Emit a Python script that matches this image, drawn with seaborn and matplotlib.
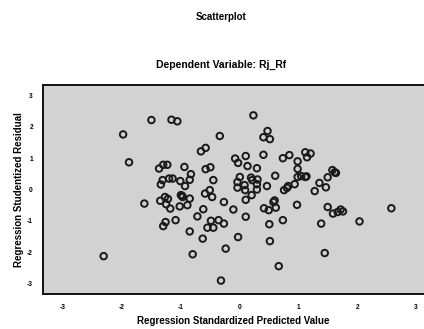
import matplotlib
matplotlib.use("Agg")
import matplotlib.pyplot as plt
import seaborn as sns
import pandas as pd

# Regression standardized predicted values (x) and studentized residuals (y)
pred = [-2.30, -1.97, -1.87, -1.49, -1.15, -1.05, -1.61,
        -1.36, -1.29, -1.22, -0.93, -0.82, -0.84, -0.92, -1.00, -1.30, -1.33,
        -1.19, -1.13, -0.65, -0.57, -0.57, -0.49, -0.58, -0.50, -0.46, -0.99,
        -0.97, -0.96, -0.84, -1.34, -1.26, -1.21, -1.24, -1.01, -0.88, -0.61,
        -1.17, -1.08, -0.71, -0.48, -0.54, -1.25, -1.29, -0.84, -0.62, -0.79,
        -0.44,
        0.24, -0.33, 0.48, 0.41, 0.52, -0.07, -0.02, 0.11, 0.41, 0.74, 0.85,
        1.12, 1.21, 1.15, 0.99, 0.14, 0.30, 0.99, 1.58, 1.62, 1.64, 0.01, 0.20,
        0.61, 0.99, 1.05, 1.12, 1.14, 1.50, 1.36, 1.47, 1.28, -0.03, 0.22, 0.31,
        0.30, 0.09, -0.03, 0.10, 0.30, 0.47, 0.76, 0.83, 0.94, 0.21, 0.11,
        -0.26, 0.60, 0.98, 1.50, 2.58, -0.10, 0.42, 0.62, 1.72, 0.50, 0.58,
        1.59, 1.67, 1.76, -0.35, -0.26, -0.44, 0.11, 0.51, 0.74, 1.39, 2.04,
        -0.02, 0.52, -0.23, 1.45, 0.67, -0.31, 0.81]
resid = [-2.13, 1.76, 0.87, 2.22, 2.23, 2.18, -0.45,
         0.67, 0.79, 0.79, 0.72, 0.49, 0.31, 0.11, 0.27, 0.30, 0.16,
         0.35, 0.35, 1.22, 1.33, 0.65, 0.71, -0.13, -0.02, -0.24, -0.18,
         -0.20, -0.24, -0.29, -0.36, -0.24, -0.30, -0.47, -0.54, -0.50, -0.63,
         -0.61, -0.98, -0.86, -1.00, -1.22, -1.04, -1.17, -1.34, -1.57, -2.07,
         0.30,
         2.37, 1.71, 1.87, 1.67, 1.61, 0.99, 0.85, 1.07, 1.11, 1.00, 1.10,
         1.19, 1.15, 1.03, 0.90, 0.75, 0.68, 0.66, 0.62, 0.55, 0.53, 0.40, 0.38,
         0.44, 0.40, 0.43, 0.40, 0.42, 0.39, 0.21, 0.07, -0.05, 0.24, 0.30, 0.32,
         0.17, 0.14, 0.06, -0.02, 0.00, 0.11, -0.02, 0.11, 0.17, -0.18, -0.33,
         -0.40, -0.35, -0.49, -0.56, -0.60, -0.64, -0.60, -0.58, -0.64, -0.66, -0.40,
         -0.77, -0.72, -0.70, -0.98, -1.09, -1.22, -0.87, -1.11, -0.98, -1.09, -1.02,
         -1.52, -1.65, -1.89, -2.03, -2.45, -2.91, 0.05]

ticks = [-3, -2, -1, 0, 1, 2, 3]
tick_labels = ["-3", "-2", "-1", "0", "1", "2", "3"]

df = pd.DataFrame({"pred": pred, "resid": resid})

sns.set_style("white")
plt.rcParams["font.family"] = ["Liberation Sans", "DejaVu Sans"]
plt.rcParams["text.color"] = "black"
plt.rcParams["axes.labelcolor"] = "black"

fig = plt.figure(figsize=(4.24, 3.29), dpi=100)
ax = fig.add_axes([42.7 / 424, 1 - 294 / 329, 1 - 42.7 / 424, (294 - 85) / 329])
ax.set_facecolor("#d2d2d2")

sns.scatterplot(data=df, x="pred", y="resid", ax=ax, marker="o", s=22,
                facecolor="none", edgecolor="#1a1a1a", linewidth=1.4,
                legend=False)

ax.set_xlim(-3.334, 3.134)
ax.set_ylim(-3.34, 3.34)
ax.set_xticks(ticks)
ax.set_xticklabels(tick_labels)
ax.set_yticks(ticks)
ax.set_yticklabels(tick_labels)
ax.tick_params(axis="both", direction="out", length=4, width=1.0,
               labelsize=4.8, colors="black", pad=3)
for lab in ax.get_xticklabels() + ax.get_yticklabels():
    lab.set_fontweight("bold")

for side in ["left", "bottom", "top"]:
    ax.spines[side].set_color("#111111")
    ax.spines[side].set_linewidth(1.4)
ax.spines["right"].set_visible(False)

ax.set_xlabel("Regression Standardized Predicted Value", fontsize=7,
              fontweight="bold", labelpad=4)
ax.set_ylabel("Regression Studentized Residual", fontsize=7,
              fontweight="bold", labelpad=2)

fig.text(221 / 424, 1 - 17 / 329, "Scatterplot", ha="center", va="center",
         fontsize=7, fontweight="bold")
fig.text(221 / 424, 1 - 65 / 329, "Dependent Variable: Rj_Rf", ha="center",
         va="center", fontsize=7.5, fontweight="bold")

fig.savefig("out.png", dpi=100)
